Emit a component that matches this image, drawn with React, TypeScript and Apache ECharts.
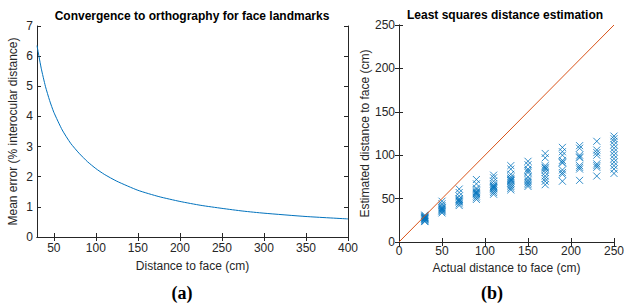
import React, { useEffect, useRef } from "react";
import * as echarts from "echarts";

// (a) convergence curve
const distanceCm = [30, 35, 40, 45, 50, 60, 70, 80, 90, 100, 110, 125, 150, 175, 200, 225, 250, 275, 300, 350, 400];
const meanErrorPct = [6.35, 5.6, 5.0, 4.53, 4.14, 3.55, 3.11, 2.78, 2.5, 2.27, 2.08, 1.85, 1.55, 1.34, 1.18, 1.05, 0.95, 0.86, 0.79, 0.68, 0.6];
const leftXTicks = [50, 100, 150, 200, 250, 300, 350, 400];

// (b) least squares estimates, grouped by actual distance
const actualDistances = [30, 50, 70, 90, 110, 130, 150, 170, 190, 210, 230, 250];
const est30 = [31, 30, 29, 28.5, 28, 27.5, 27, 26.5, 26, 25, 24, 23.5];
const est50 = [47, 44, 42, 40, 39, 38, 37, 36, 35, 33.5];
const est70 = [61, 57, 53, 50, 49, 48, 47, 46, 44, 42];
const est90 = [72, 67, 62, 60, 58, 57, 56, 55, 53, 51, 49];
const est110 = [77, 74, 70, 67, 65, 64, 63, 62, 61, 59, 57, 55];
const est130 = [88, 84, 78, 75, 73, 72, 71, 70, 68, 66, 64, 62, 60];
const est150 = [93, 89, 84, 82, 80, 75, 72, 70, 68, 66, 64];
const est170 = [102, 97, 88, 86, 85, 83, 80, 76, 73, 70, 66];
const est190 = [109, 104, 100, 94, 92, 91, 83, 80, 78, 70];
const est210 = [111, 108, 100, 98, 97, 88, 86, 84, 71];
const est230 = [116, 106, 103, 100, 90, 88, 86, 76];
const est250 = [122, 119, 116, 112, 108, 104, 100, 96, 92, 88, 84, 79];
const estimateGroups = [est30, est50, est70, est90, est110, est130, est150, est170, est190, est210, est230, est250];
const idealLine = [0, 250];

const TXT = "#262626";
const FONT = "'Liberation Sans', Arial, sans-serif";
const FS = 12;

function boxAxes(gridIndex: number, min: number, max: number, opts: any) {
  const line = { show: true, lineStyle: { color: TXT, width: 1 } };
  const tick = (extra: any) => ({ show: true, inside: true, length: 4, lineStyle: { color: TXT }, ...extra });
  return {
    x: [
      {
        gridIndex, type: "value", min, max, position: "bottom",
        axisLine: line, splitLine: { show: false },
        axisTick: tick(opts.xTickExtra || {}),
        axisLabel: { fontSize: FS, color: TXT, fontFamily: FONT, margin: opts.xLabelMargin, ...(opts.xLabelExtra || {}) },
        interval: opts.xInterval,
        name: opts.xName, nameLocation: "middle", nameGap: opts.xNameGap,
        nameTextStyle: { fontSize: FS, color: TXT, fontFamily: FONT },
      },
      {
        gridIndex, type: "value", min, max, position: "top",
        axisLine: line, splitLine: { show: false },
        axisTick: tick(opts.xTickExtra || {}),
        axisLabel: { show: false },
        interval: opts.xInterval,
      },
    ],
    y: [
      {
        gridIndex, type: "value", min: opts.yMin, max: opts.yMax, interval: opts.yInterval, position: "left",
        axisLine: line, splitLine: { show: false },
        axisTick: tick({}),
        axisLabel: { fontSize: FS, color: TXT, fontFamily: FONT, margin: 4 },
        name: opts.yName, nameLocation: "middle", nameGap: opts.yNameGap,
        nameTextStyle: { fontSize: FS, color: TXT, fontFamily: FONT },
      },
      {
        gridIndex, type: "value", min: opts.yMin, max: opts.yMax, interval: opts.yInterval, position: "right",
        axisLine: line, splitLine: { show: false },
        axisTick: tick({}),
        axisLabel: { show: false },
      },
    ],
  };
}

export default function App() {
  const ref = useRef<HTMLDivElement>(null);
  useEffect(() => {
    if (!ref.current) return;
    const chart = echarts.init(ref.current, null, { renderer: "svg" });
    const left = boxAxes(0, 30, 400, {
      xTickExtra: { customValues: leftXTicks },
      xLabelExtra: { customValues: leftXTicks },
      xLabelMargin: 5,
      xName: "Distance to face (cm)", xNameGap: 23,
      yMin: 0, yMax: 7, yInterval: 1,
      yName: "Mean error (% interocular distance)", yNameGap: 18,
    });
    const right = boxAxes(1, 0, 250, {
      xInterval: 50,
      xLabelMargin: 3,
      xName: "Actual distance to face (cm)", xNameGap: 20,
      yMin: 0, yMax: 250, yInterval: 50,
      yName: "Estimated distance to face (cm)", yNameGap: 26,
    });
    const scatterData: number[][] = [];
    actualDistances.forEach((d, i) => estimateGroups[i].forEach((v) => scatterData.push([d, v])));

    chart.setOption({
      animation: false,
      grid: [
        { left: 37, right: 279, top: 26, bottom: 66 },
        { left: 399, right: 11, top: 25, bottom: 61 },
      ],
      xAxis: [...left.x, ...right.x],
      yAxis: [...left.y, ...right.y],
      graphic: [
        { type: "text", x: 192, y: 16, style: { text: "Convergence to orthography for face landmarks", font: `bold 12px ${FONT}`, fill: "#000", align: "center", verticalAlign: "middle" } },
        { type: "text", x: 505, y: 15, style: { text: "Least squares distance estimation", font: `bold 12px ${FONT}`, fill: "#000", align: "center", verticalAlign: "middle" } },
        { type: "text", x: 182, y: 293, style: { text: "(a)", font: `bold 18px 'Liberation Serif', serif`, fill: "#000", align: "center", verticalAlign: "middle" } },
        { type: "text", x: 492, y: 293, style: { text: "(b)", font: `bold 18px 'Liberation Serif', serif`, fill: "#000", align: "center", verticalAlign: "middle" } },
      ],
      series: [
        {
          type: "line", xAxisIndex: 0, yAxisIndex: 0, showSymbol: false, symbol: "none", smooth: 0.2,
          data: distanceCm.map((d, i) => [d, meanErrorPct[i]]),
          lineStyle: { color: "#0072BD", width: 1 },
        },
        {
          type: "line", xAxisIndex: 2, yAxisIndex: 2, showSymbol: false, symbol: "none",
          data: idealLine.map((v) => [v, v]),
          lineStyle: { color: "#D95319", width: 1 },
        },
        {
          type: "scatter", xAxisIndex: 2, yAxisIndex: 2,
          symbol: "path://M0,0L10,10M10,0L0,10",
          symbolSize: 7,
          data: scatterData,
          itemStyle: { color: "rgba(0,0,0,0)", borderColor: "#0072BD", borderWidth: 1 },
        },
      ],
    });
    return () => chart.dispose();
  }, []);
  return <div ref={ref} style={{ position: "fixed", left: 0, top: 0, width: 627, height: 303, background: "#fff" }} />;
}
